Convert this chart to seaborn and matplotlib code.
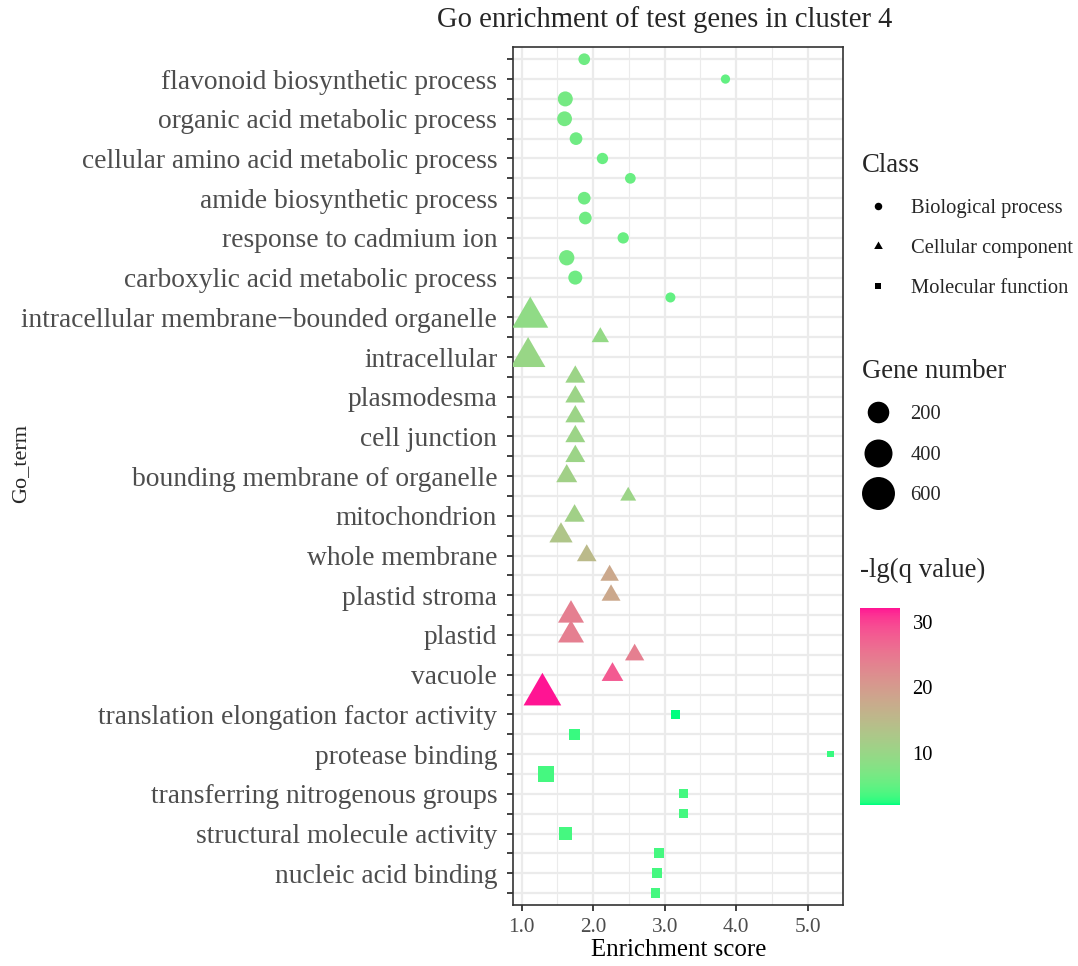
import numpy as np
import pandas as pd
import matplotlib
matplotlib.use("Agg")
import matplotlib.pyplot as plt
import matplotlib.colors as mcolors
from matplotlib.path import Path
from matplotlib.lines import Line2D
from matplotlib.cm import ScalarMappable
import seaborn as sns

# GO terms from top to bottom; "" = tick without label
go_terms = [
    "", "flavonoid biosynthetic process",
    "", "organic acid metabolic process",
    "", "cellular amino acid metabolic process",
    "", "amide biosynthetic process",
    "", "response to cadmium ion",
    "", "carboxylic acid metabolic process",
    "", "intracellular membrane\u2212bounded organelle",
    "", "intracellular",
    "", "plasmodesma",
    "", "cell junction",
    "", "bounding membrane of organelle",
    "", "mitochondrion",
    "", "whole membrane",
    "", "plastid stroma",
    "", "plastid",
    "", "vacuole",
    "", "translation elongation factor activity",
    "", "protease binding",
    "", "transferring nitrogenous groups",
    "", "structural molecule activity",
    "", "nucleic acid binding",
    "",
]

go_class = (["Biological process"] * 13 + ["Cellular component"] * 20
            + ["Molecular function"] * 10)

enrichment = [1.875, 3.85, 1.61, 1.60, 1.76, 2.13, 2.52, 1.875, 1.89, 2.42, 1.63, 1.75, 3.08,
              1.12, 2.10, 1.09, 1.75, 1.75, 1.75, 1.75, 1.75, 1.63, 2.49, 1.74, 1.55, 1.91,
              2.23, 2.25, 1.69, 1.69, 2.58, 2.27, 1.29,
              3.15, 1.74, 5.32, 1.34, 3.26, 3.26, 1.61, 2.92, 2.89, 2.87]

gene_number = [37, 15, 83, 80, 49, 33, 27, 49, 49, 33, 88, 67, 21,
               389, 51, 355, 80, 80, 80, 80, 80, 93, 39, 84, 125, 76, 63, 68, 169, 169, 72, 102, 437,
               11, 33, 2, 100, 13, 13, 53, 21, 21, 18]

neg_lg_q = [6, 5, 6.5, 6.5, 6, 5.5, 5.5, 6, 6, 5.5, 6.5, 6, 5,
            9, 9.5, 10, 10.5, 10.5, 10.5, 10.5, 10.5, 11, 10.5, 11, 13, 15, 18, 18, 24, 24, 24, 28, 32.1,
            2.06, 3, 3, 3.5, 3.5, 3.5, 3.5, 3.5, 3.5, 3.5]

class_levels = ["Biological process", "Cellular component", "Molecular function"]
size_breaks = [200, 400, 600]
color_ticks = [10, 20, 30]

df = pd.DataFrame({
    "term": go_terms,
    "pos": np.arange(len(go_terms)),
    "Class": go_class,
    "enrichment": enrichment,
    "genes": gene_number,
    "qval": neg_lg_q,
})


# springgreen -> deeppink, interpolated in CIELAB like ggplot
def srgb_to_lab(rgb):
    c = np.asarray(rgb, float)
    lin = np.where(c <= 0.04045, c / 12.92, ((c + 0.055) / 1.055) ** 2.4)
    M = np.array([[0.4124564, 0.3575761, 0.1804375],
                  [0.2126729, 0.7151522, 0.0721750],
                  [0.0193339, 0.1191920, 0.9503041]])
    xyz = lin @ M.T / np.array([0.95047, 1.0, 1.08883])
    d = 6 / 29
    f = np.where(xyz > d ** 3, np.cbrt(xyz), xyz / (3 * d ** 2) + 4 / 29)
    return np.array([116 * f[1] - 16, 500 * (f[0] - f[1]), 200 * (f[1] - f[2])])


def lab_to_srgb(lab):
    L, a, b = lab
    fy = (L + 16) / 116
    fx = fy + a / 500
    fz = fy - b / 200
    d = 6 / 29
    f = np.array([fx, fy, fz])
    xyz = np.where(f > d, f ** 3, 3 * d ** 2 * (f - 4 / 29)) * np.array([0.95047, 1.0, 1.08883])
    Minv = np.array([[3.2404542, -1.5371385, -0.4985314],
                     [-0.9692660, 1.8760108, 0.0415560],
                     [0.0556434, -0.2040259, 1.0572252]])
    lin = np.clip(Minv @ xyz, 0, 1)
    c = np.where(lin <= 0.0031308, 12.92 * lin, 1.055 * lin ** (1 / 2.4) - 0.055)
    return np.clip(c, 0, 1)


lab_lo = srgb_to_lab(mcolors.to_rgb("springgreen"))
lab_hi = srgb_to_lab(mcolors.to_rgb("deeppink"))
cmap = mcolors.ListedColormap([lab_to_srgb(lab_lo + t * (lab_hi - lab_lo))
                               for t in np.linspace(0, 1, 256)])
qnorm = mcolors.Normalize(min(neg_lg_q), max(neg_lg_q))

PX = 0.72  # points per pixel at dpi 100


def diam_px(v):
    return 5 + 1.1 * np.sqrt(v)


def area_px(v):
    return diam_px(v) ** 2


def area_inv(a):
    return ((np.sqrt(a) - 5) / 1.1) ** 2


size_norm = mcolors.FuncNorm((area_px, area_inv), vmin=0, vmax=700)
size_range = (area_px(0) * PX ** 2, area_px(700) * PX ** 2)

tri = Path([(0, 1), (-0.866, -0.5), (0.866, -0.5), (0, 1)],
           [Path.MOVETO, Path.LINETO, Path.LINETO, Path.CLOSEPOLY])
markers = {"Biological process": ("o", 1.0),
           "Cellular component": (tri, 2.418),
           "Molecular function": ("s", 1.0)}

sns.set_style("white")
plt.rcParams["font.family"] = ["Liberation Serif", "DejaVu Serif"]

fig = plt.figure(figsize=(10.78, 9.66), dpi=100)
W, H = 1078, 966
ax = fig.add_axes([513.3 / W, 1 - 905 / H, 330 / W, (905 - 47.3) / H])

for cls in class_levels:
    m, mult = markers[cls]
    sns.scatterplot(data=df[df["Class"] == cls], x="enrichment", y="pos",
                    hue="qval", hue_norm=qnorm, palette=cmap,
                    size="genes", size_norm=size_norm,
                    sizes=(size_range[0] * mult, size_range[1] * mult),
                    marker=m, linewidth=0, legend=False, ax=ax, zorder=3)

ax.set_xlim(0.883, 5.498)
ax.set_ylim(len(go_terms) - 1 + 0.6, -0.6)
ax.set_xticks([1, 2, 3, 4, 5])
ax.set_xticklabels([f"{t:.1f}" for t in [1, 2, 3, 4, 5]])
ax.set_xticks([1.5, 2.5, 3.5, 4.5], minor=True)
ax.set_yticks(df["pos"])
ax.set_yticklabels(go_terms)
ax.grid(True, which="major", color="#EBEBEB", lw=1.6)
ax.grid(True, which="minor", axis="x", color="#EBEBEB", lw=0.8)
ax.set_axisbelow(True)
for sp in ax.spines.values():
    sp.set_color("#333333")
    sp.set_linewidth(1.2)
ax.tick_params(axis="both", which="major", length=4.5, width=1.3, color="#333333",
               colors="#4D4D4D", direction="out", left=True, bottom=True)
ax.tick_params(axis="y", labelsize=19.8, pad=7)
ax.tick_params(axis="x", labelsize=15.3, pad=5)
ax.tick_params(axis="x", which="minor", length=0)
for lbl in ax.get_yticklabels():
    lbl.set_va("center_baseline")
ax.set_xlabel("Enrichment score", fontsize=17.9, color="black", labelpad=1)
ax.set_ylabel("")

fig.text(21 / W, 1 - 463 / H, "Go_term", rotation=90, ha="center", va="center",
         fontsize=16)
fig.text(665 / W, 1 - 27 / H, "Go enrichment of test genes in cluster 4",
         ha="center", va="baseline", fontsize=20.6)

# Class legend
class_handles = [
    Line2D([], [], ls="", marker="o", color="black", markeredgewidth=0, markersize=7.5 * PX),
    Line2D([], [], ls="", marker=tri, color="black", markeredgewidth=0, markersize=10 * PX),
    Line2D([], [], ls="", marker="s", color="black", markeredgewidth=0, markersize=6.5 * PX),
]
fig.legend(handles=class_handles, labels=class_levels, title="Class",
           loc="upper left", bbox_to_anchor=(862 / W, 1 - 153 / H), frameon=False,
           alignment="left", fontsize=14.8, title_fontsize=19.3, handlelength=1.6,
           handletextpad=0.76, labelspacing=1.0, borderpad=0, borderaxespad=0)
# Gene number legend
size_handles = [Line2D([], [], ls="", marker="o", color="black", markeredgewidth=0,
                       markersize=(diam_px(v) + 1) * PX) for v in size_breaks]
fig.legend(handles=size_handles, labels=[str(v) for v in size_breaks], title="Gene number",
           loc="upper left", bbox_to_anchor=(862 / W, 1 - 359 / H), frameon=False,
           alignment="left", fontsize=14.8, title_fontsize=19.3, handlelength=1.6,
           handletextpad=0.76, labelspacing=1.02, borderpad=0, borderaxespad=0)

# colour bar
fig.text(860 / W, 1 - 570 / H, "-lg(q value)", ha="left", va="center", fontsize=19.3)
cax = fig.add_axes([860 / W, 1 - 805 / H, 40 / W, 197 / H])
cbar = fig.colorbar(ScalarMappable(norm=qnorm, cmap=cmap), cax=cax, ticks=color_ticks)
cbar.outline.set_visible(False)
cax.tick_params(axis="y", direction="in", length=12, width=0.8, color="white",
                labelsize=14.8, pad=9, labelcolor="black")

fig.savefig("out.png", dpi=100)
